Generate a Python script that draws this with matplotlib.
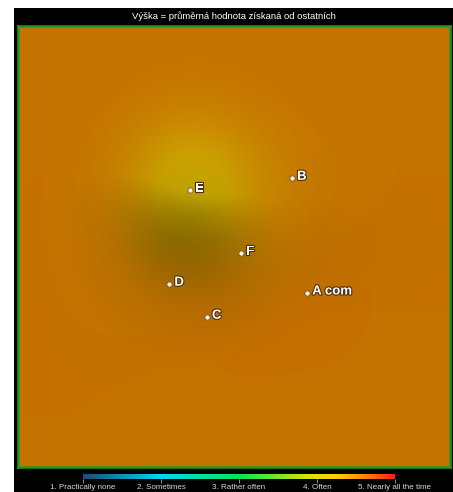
import numpy as np
import matplotlib
matplotlib.use("Agg")
import matplotlib.pyplot as plt
from matplotlib.colors import LinearSegmentedColormap, Normalize
import matplotlib.patheffects as pe

plt.rcParams["font.family"] = ["Liberation Sans", "DejaVu Sans"]

# ---- data ----
names = ["A com", "B", "C", "D", "E", "F"]
xs = [0.669, 0.634, 0.437, 0.350, 0.398, 0.516]
ys = [0.395, 0.655, 0.340, 0.415, 0.628, 0.485]
values = [4.58, 4.53, 4.58, 4.53, 4.22, 4.50]
base_value = 4.55
tick_values = [1, 2, 3, 4, 5]
tick_labels = ["1. Practically none", "2. Sometimes", "3. Rather often", "4. Often",
               "5. Nearly all the time"]
title = "Výška = průměrná hodnota získaná od ostatních"

cmap = LinearSegmentedColormap.from_list(
    "freq",
    [(0.0, (0.12, 0.30, 0.45)), (0.25, (0.0, 0.85, 0.95)), (0.5, (0.0, 0.90, 0.35)),
     (0.72, (0.85, 0.90, 0.0)), (0.82, (1.0, 0.80, 0.0)), (0.9, (1.0, 0.55, 0.0)),
     (1.0, (1.0, 0.12, 0.12))])
norm = Normalize(1, 5)

W, H = 453, 492
fig = plt.figure(figsize=(W / 100, H / 100), dpi=100, facecolor="white")

# black panel
panel = fig.add_axes([14 / W, 0, (W - 14) / W, (H - 8) / H])
panel.set_facecolor("black")
panel.set_xticks([]); panel.set_yticks([])
for s in panel.spines.values():
    s.set_visible(False)
fig.text((14 + W) / 2 / W, 1 - 16 / H, title, color="white", fontsize=6.8,
         ha="center", va="center")

# field
ax = fig.add_axes([18 / W, (H - 467) / H, 432 / W, 441 / H])
n = 300
gx = np.linspace(0, 1, n)
gy = np.linspace(1, 0, n)
X, Y = np.meshgrid(gx, gy)
Z = np.full_like(X, base_value)
sig = [0.13, 0.13, 0.13, 0.13, 0.11, 0.13]
for x0, y0, v, s in zip(xs, ys, values, sig):
    Z += (v - base_value) * np.exp(-((X - x0) ** 2 + (Y - y0) ** 2) / (2 * s ** 2))

# manual hill shading
ve = 0.14
dzdy_row, dzdx = np.gradient(Z * ve, 1 / n, 1 / n)
dzdy = -dzdy_row
az, alt = np.radians(188), np.radians(45)
lx, ly, lz = np.cos(alt) * np.sin(az), np.cos(alt) * np.cos(az), np.sin(alt)
nrm = np.sqrt(dzdx ** 2 + dzdy ** 2 + 1)
inten = (-dzdx * lx - dzdy * ly + lz) / nrm
r = inten / np.sin(alt)
r = np.where(r > 1, 1 + 0.15 * (r - 1), r)
shade = np.clip(0.77 * r, 0, 1)
rgb = cmap(norm(Z))[:, :, :3]
rgb = np.clip(rgb * shade[:, :, None], 0, 1)
ax.imshow(rgb, extent=[0, 1, 0, 1], aspect="auto", interpolation="bilinear")
ax.set_xlim(0, 1); ax.set_ylim(0, 1)
ax.set_xticks([]); ax.set_yticks([])
for s in ax.spines.values():
    s.set_color("#1f9a1f")
    s.set_linewidth(1.8)

ax.scatter(xs, ys, s=14, c="#f4eee6", edgecolors="#6a4a20", linewidths=0.5, zorder=3)
for x0, y0, nm in zip(xs, ys, names):
    ax.text(x0 + 0.012, y0 + 0.003, nm, color="white", fontsize=9.5, fontweight="bold",
            ha="left", va="center",
            path_effects=[pe.withStroke(linewidth=1.6, foreground="#4a3010")])

# colorbar
cax = fig.add_axes([83 / W, (H - 479) / H, 312 / W, 5 / H])
grad = np.linspace(1, 5, 400)[None, :]
cax.imshow(grad, cmap=cmap, norm=norm, aspect="auto", extent=[1, 5, 0, 1])
cax.set_xlim(1, 5)
cax.set_yticks([])
cax.set_xticks(tick_values)
cax.set_xticklabels(tick_labels, color="#d8d8d8", fontsize=5.8)
cax.tick_params(axis="x", length=3, width=0.6, color="#aaaaaa", pad=0.5)
for s in cax.spines.values():
    s.set_visible(False)

fig.savefig("out.png", dpi=100, facecolor="white")
